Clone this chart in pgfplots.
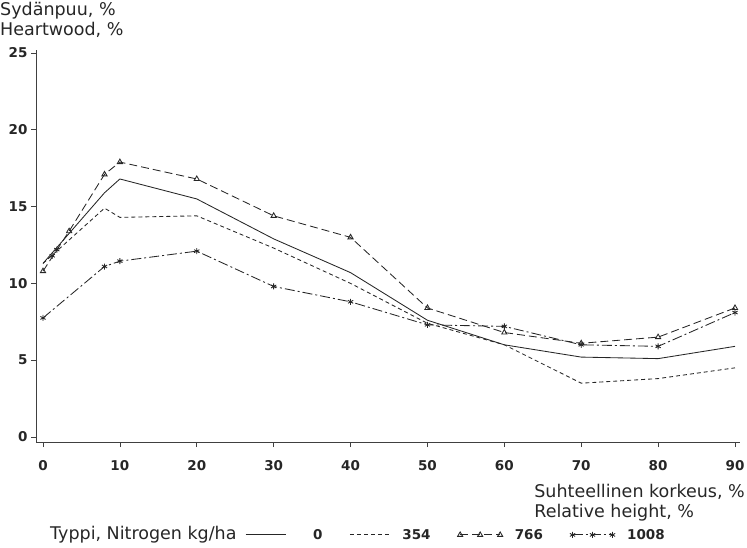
\documentclass[border=0pt]{standalone}
\usepackage{fontspec}
\setmainfont{DejaVu Sans}
\usepackage{pgfplots}
\pgfplotsset{compat=1.18}
\begin{document}
\begin{tikzpicture}
\useasboundingbox (-36pt,-105pt) rectangle (711pt,442pt);
\begin{axis}[
    at={(0,0)}, anchor=south west,
    scale only axis, width=704pt, height=392pt,
    xmin=-0.91, xmax=90.65, ymin=-0.33, ymax=25.2,
    axis lines=left,
    axis line style={-, black!75, line width=0.7pt},
    xtick={0,10,...,90}, ytick={0,5,...,25},
    tick align=outside, major tick length=5pt,
    tick style={black!75, line width=0.7pt},
    ticklabel style={font=\fontsize{13.5}{15}\selectfont\bfseries, text=black!85},
    /pgf/number format/assume math mode=true,
    xticklabel style={yshift=-10pt},
    every axis plot/.append style={black!85, line width=0.85pt},
    legend image code/.code={\draw[#1] plot coordinates {(0pt,0pt) (20pt,0pt) (40pt,0pt)};},
    legend style={
        draw=none, fill=none, inner sep=0pt,
        at={(0.297,-0.237)}, anchor=west,
        legend columns=-1,
        font=\fontsize{13.5}{15}\selectfont\bfseries,
        text=black!85,
        /tikz/every odd column/.append style={column sep=10pt},
        /tikz/every even column/.append style={column sep=25pt}
    }
]

% 0 kg/ha
\addplot[solid] coordinates {
(0,11.3) (8,15.9) (10,16.8) (20,15.5) (30,12.9) (40,10.7)
(50,7.6) (60,6.0) (70,5.2) (80,5.1) (90,5.9)
};
\addlegendentry{\hspace{15pt}0}

% 354 kg/ha
\addplot[dash pattern=on 4pt off 3pt] coordinates {
(0,11.3) (8,14.9) (10,14.3) (20,14.4) (30,12.3) (40,10.0)
(50,7.4) (60,6.0) (70,3.5) (80,3.8) (90,4.5)
};
\addlegendentry{354}

% 766 kg/ha
\addplot[dash pattern=on 8pt off 4pt, mark=triangle, mark size=3pt, mark options={solid}] coordinates {
(0,10.8) (3.4,13.4) (8,17.1) (10,17.9) (20,16.8) (30,14.4) (40,13.0)
(50,8.4) (60,6.8) (70,6.1) (80,6.5) (90,8.4)
};
\addlegendentry{766}

% 1008 kg/ha
\addplot[dash pattern=on 10pt off 3pt on 2pt off 3pt, mark=asterisk, mark size=3pt, mark options={solid}] coordinates {
(0,7.75) (8,11.1) (10,11.45) (20,12.1) (30,9.8) (40,8.8)
(50,7.3) (60,7.2) (70,6.0) (80,5.9) (90,8.1)
};
\addlegendentry{1008}

\addplot[only marks, mark=asterisk, mark size=3pt, forget plot] coordinates {
(1.2,11.8) (1.8,12.2)
};

\end{axis}

\node[anchor=north west, inner sep=0pt, align=left, text=black!85,
      font=\fontsize{17.5}{20}\selectfont] at (-36pt,440pt)
      {Sydänpuu, \%\\Heartwood, \%};
\node[anchor=north east, inner sep=0pt, align=left, text=black!85,
      font=\fontsize{17.5}{20}\selectfont] at (709pt,-42pt)
      {Suhteellinen korkeus, \%\\Relative height, \%};
\node[anchor=west, inner sep=0pt, text=black!85,
      font=\fontsize{17.5}{20}\selectfont] at (14pt,-93pt)
      {Typpi, Nitrogen kg/ha};
\end{tikzpicture}
\end{document}
